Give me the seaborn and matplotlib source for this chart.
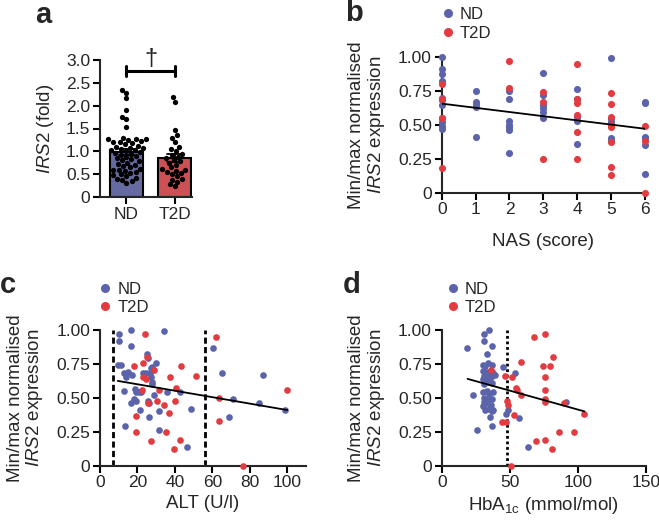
import matplotlib
matplotlib.use("Agg")
import numpy as np
import pandas as pd
import matplotlib.pyplot as plt
from matplotlib.lines import Line2D
import seaborn as sns

sns.set_style("ticks")
plt.rcParams['font.family'] = ['Liberation Sans', 'DejaVu Sans']
plt.rcParams['mathtext.fontset'] = 'custom'
plt.rcParams['mathtext.rm'] = 'Liberation Sans'
plt.rcParams['mathtext.it'] = 'Liberation Sans:italic'
plt.rcParams['mathtext.bf'] = 'Liberation Sans:bold'
plt.rcParams['axes.linewidth'] = 1.5

azul = "#5b63ab"
vermelho = "#e23b40"

# ---- painel a: IRS2 (fold)
grupos = ["ND", "T2D"]
fold_nd = [2.34, 2.28, 2.16, 1.90, 1.76, 1.70, 1.53, 1.30, 1.28, 1.27, 1.27, 1.25,
           1.22, 1.20, 1.20, 1.18, 1.15, 1.12, 1.10, 1.08, 1.07, 1.05, 1.03, 1.02,
           1.00, 0.98, 0.96, 0.95, 0.93, 0.90, 0.88, 0.85, 0.83, 0.80, 0.78, 0.75,
           0.72, 0.70, 0.68, 0.65, 0.62, 0.60, 0.60, 0.58, 0.55, 0.53, 0.50, 0.48,
           0.45, 0.42, 0.40, 0.38, 0.35, 0.31]
fold_t2d = [2.20, 2.09, 1.47, 1.35, 1.30, 1.20, 1.10, 1.05, 1.00, 0.95, 0.92, 0.88,
            0.85, 0.80, 0.78, 0.75, 0.70, 0.65, 0.62, 0.60, 0.58, 0.55, 0.52, 0.50,
            0.45, 0.40, 0.38, 0.33, 0.28, 0.23]

# ---- painel b: NAS
nas_nd_x = [0, 0, 0, 0, 0, 0, 0, 0, 0, 0, 0,
            1, 1, 1, 1, 1,
            2, 2, 2, 2, 2, 2, 2,
            3, 3, 3, 3, 3, 3,
            4, 4, 4, 4, 4,
            5, 5, 5, 5, 5,
            6, 6, 6, 6, 6, 6]
nas_nd_y = [1.00, 0.91, 0.87, 0.82, 0.70, 0.68, 0.645, 0.55, 0.52, 0.49, 0.465,
            0.75, 0.67, 0.65, 0.63, 0.41,
            0.745, 0.69, 0.53, 0.50, 0.48, 0.46, 0.29,
            0.88, 0.72, 0.645, 0.62, 0.59, 0.55,
            0.76, 0.69, 0.56, 0.53, 0.36,
            0.99, 0.54, 0.52, 0.40, 0.39,
            0.67, 0.66, 0.41, 0.40, 0.35, 0.14]
nas_t2d_x = [0, 0, 0, 0,
             2, 2,
             3, 3, 3,
             4, 4, 4, 4, 4, 4,
             5, 5, 5, 5, 5, 5, 5, 5,
             6, 6, 6]
nas_t2d_y = [0.80, 0.69, 0.55, 0.18,
             0.97, 0.77,
             0.74, 0.665, 0.25,
             0.95, 0.69, 0.66, 0.57, 0.45, 0.25,
             0.735, 0.65, 0.56, 0.50, 0.48, 0.37, 0.19, 0.13,
             0.49, 0.38, 0.00]
nas_fit_x = [0, 6]
nas_fit_y = [0.655, 0.47]

# ---- painel c: ALT
alt_nd_x = [10, 10.4, 16.5, 34.3, 9.5, 11, 16.5, 25.3, 25.5, 30, 28, 27, 13, 15, 17,
            14, 23, 24.5, 26.5, 27.3, 28, 27.5, 12.6, 18.5, 19, 21, 22, 18, 19, 16.6,
            25.5, 26.4, 29, 36, 42.5, 21.6, 31.4, 26.4, 48.4, 13.5, 31.4, 46.2, 60.5,
            65, 71, 69, 87, 85, 99]
alt_nd_y = [0.97, 0.92, 1.00, 0.995, 0.745, 0.745, 0.88, 0.82, 0.79, 0.76, 0.73, 0.72,
            0.685, 0.69, 0.67, 0.655, 0.685, 0.68, 0.685, 0.655, 0.62, 0.60, 0.55,
            0.565, 0.545, 0.54, 0.545, 0.49, 0.475, 0.465, 0.475, 0.46, 0.52, 0.54,
            0.54, 0.41, 0.405, 0.36, 0.415, 0.29, 0.26, 0.14, 0.87, 0.68, 0.49, 0.36,
            0.67, 0.46, 0.41]
alt_t2d_x = [24, 18.2, 23.2, 25, 28.6, 23.2, 24.6, 37.5, 43.4, 51.2, 22.3, 31.4, 40.4,
             30.4, 40, 25.5, 34, 36.6, 19.3, 19.3, 35.4, 27.3, 42.5, 39.3, 62, 63.4,
             63.4, 76.4, 100]
alt_t2d_y = [0.97, 0.735, 0.76, 0.80, 0.705, 0.655, 0.64, 0.65, 0.735, 0.66, 0.56, 0.56,
             0.57, 0.48, 0.48, 0.46, 0.45, 0.385, 0.365, 0.25, 0.25, 0.185, 0.19, 0.12,
             0.95, 0.50, 0.33, 0.00, 0.56]
alt_fit_x = [9.5, 100]
alt_fit_y = [0.625, 0.41]
alt_limites = [7, 56]

# ---- painel d: HbA1c
hba_nd_x = [35, 31, 31, 37, 18.5, 33, 30, 32, 34, 37, 45, 53.7, 30, 33, 36, 38, 31, 34,
            36, 39, 30, 33, 35, 31, 37, 23, 30, 33, 35, 38, 31, 34, 37, 31, 33, 36, 30,
            32, 35, 37, 38, 35.3, 47.5, 49, 56.8, 37.3, 25.6, 63.5, 91.5]
hba_nd_y = [1.00, 0.97, 0.92, 0.88, 0.87, 0.82, 0.745, 0.735, 0.76, 0.745, 0.73, 0.685,
            0.70, 0.69, 0.70, 0.68, 0.66, 0.67, 0.655, 0.665, 0.64, 0.63, 0.62, 0.60,
            0.61, 0.52, 0.54, 0.55, 0.53, 0.54, 0.50, 0.49, 0.49, 0.47, 0.46, 0.45,
            0.44, 0.41, 0.42, 0.40, 0.41, 0.36, 0.38, 0.41, 0.355, 0.29, 0.26, 0.14, 0.47]
hba_t2d_x = [67.7, 76, 58.5, 81.7, 74.3, 79.7, 36.6, 46.8, 51.7, 76.3, 54.4, 55, 76.3,
             58, 76.3, 76.3, 48, 49, 90, 52.9, 44.6, 47, 104.8, 86, 97, 69, 76.3, 81, 51.2]
hba_t2d_y = [0.95, 0.97, 0.765, 0.80, 0.737, 0.737, 0.705, 0.66, 0.65, 0.65, 0.57, 0.56,
             0.56, 0.52, 0.49, 0.47, 0.48, 0.45, 0.46, 0.37, 0.325, 0.325, 0.38, 0.25,
             0.25, 0.185, 0.19, 0.12, 0.00]
hba_fit_x = [19, 105]
hba_fit_y = [0.64, 0.40]
hba_limite = [48]

W, H = 659, 520
fig = plt.figure(figsize=(W / 100, H / 100), dpi=100)


def caixa(l, t, r, b):
    return [l / W, 1 - b / H, (r - l) / W, (b - t) / H]


ax_a = fig.add_axes(caixa(100, 60, 192, 197))
ax_b = fig.add_axes(caixa(441.7, 56.7, 645, 192.7))
ax_c = fig.add_axes(caixa(100, 330, 306, 465.7))
ax_d = fig.add_axes(caixa(441.7, 330, 645.7, 465.7))

tick_kw = dict(labelsize=12.5, width=1.5, length=5, direction='out', color='black', pad=2)

# painel a
df_a = pd.DataFrame({
    "grupo": ["ND"] * len(fold_nd) + ["T2D"] * len(fold_t2d),
    "fold": fold_nd + fold_t2d,
})
sns.barplot(data=df_a, x="grupo", y="fold", hue="grupo", order=grupos,
            palette=[azul, vermelho], errorbar="se", capsize=0.3, width=0.69,
            edgecolor="black", linewidth=1.5, legend=False,
            err_kws={"color": "black", "linewidth": 1.3}, ax=ax_a)
sns.swarmplot(data=df_a, x="grupo", y="fold", order=grupos, color="black",
              size=3.8, ax=ax_a)
ax_a.set_xlim(-0.55, 1.36)
ax_a.set_ylim(0, 3.0)
ax_a.set_yticks([0, 0.5, 1.0, 1.5, 2.0, 2.5, 3.0])
ax_a.set_yticklabels(["0", "0.5", "1.0", "1.5", "2.0", "2.5", "3.0"])
ax_a.set_xlabel("")
ax_a.set_ylabel(r"$\it{IRS2}$ (fold)", fontsize=13.5, labelpad=7)
ax_a.tick_params(**tick_kw)
# barra de significância
ax_a.plot([0, 1], [2.76, 2.76], color="black", lw=2.2, clip_on=False)
ax_a.plot([0, 0], [2.65, 2.87], color="black", lw=2.2, clip_on=False)
ax_a.plot([1, 1], [2.65, 2.87], color="black", lw=2.2, clip_on=False)
ax_a.text(0.5, 2.78, "†", ha="center", va="bottom", fontsize=17, clip_on=False)


def dispersao(ax, nd_x, nd_y, t2d_x, t2d_y, s):
    sns.scatterplot(x=nd_x, y=nd_y, color=azul, s=s, linewidth=0, ax=ax,
                    clip_on=False, zorder=3)
    sns.scatterplot(x=t2d_x, y=t2d_y, color=vermelho, s=s, linewidth=0, ax=ax,
                    clip_on=False, zorder=3)
    ax.set_ylim(0, 1.0)
    ax.set_yticks([0, 0.25, 0.5, 0.75, 1.0])
    ax.set_yticklabels(["0", "0.25", "0.50", "0.75", "1.00"])
    ax.set_ylabel("Min/max normalised\n" + r"$\it{IRS2}$ expression",
                  fontsize=13.5, labelpad=8, linespacing=1.05)
    ax.tick_params(**tick_kw)
    handles = [Line2D([], [], marker="o", ls="", color=azul, markersize=5.5),
               Line2D([], [], marker="o", ls="", color=vermelho, markersize=5.5)]
    return handles


leg_kw = dict(loc="lower left", frameon=False, fontsize=12, handletextpad=0.25,
              labelspacing=0.2, borderaxespad=0, handlelength=1.0)

# painel b
h = dispersao(ax_b, nas_nd_x, nas_nd_y, nas_t2d_x, nas_t2d_y, 26)
ax_b.plot(nas_fit_x, nas_fit_y, color="black", lw=1.3, zorder=4)
ax_b.set_xlim(0, 6)
ax_b.set_xticks(range(7))
ax_b.set_xlabel("NAS (score)", fontsize=13.5, labelpad=11)
ax_b.legend(h, ["ND", "T2D"], bbox_to_anchor=(-0.045, 1.07), **leg_kw)

# painel c
h = dispersao(ax_c, alt_nd_x, alt_nd_y, alt_t2d_x, alt_t2d_y, 23)
ax_c.vlines(alt_limites, 0, 1, colors="black", linestyles=(0, (2.2, 1.2)), lw=2)
ax_c.plot(alt_fit_x, alt_fit_y, color="black", lw=1.3, zorder=4)
ax_c.set_xlim(0, 110)
ax_c.set_xticks([0, 20, 40, 60, 80, 100])
ax_c.set_xlabel("ALT (U/l)", fontsize=13.5, labelpad=3)
ax_c.legend(h, ["ND", "T2D"], bbox_to_anchor=(-0.05, 1.06), **leg_kw)

# painel d
h = dispersao(ax_d, hba_nd_x, hba_nd_y, hba_t2d_x, hba_t2d_y, 23)
ax_d.vlines(hba_limite, 0, 1, colors="black", linestyles=(0, (1, 1)), lw=2)
ax_d.plot(hba_fit_x, hba_fit_y, color="black", lw=1.3, zorder=4)
ax_d.set_xlim(0, 150)
ax_d.set_xticks([0, 50, 100, 150])
ax_d.set_xlabel(r"HbA$_{\mathrm{1c}}$ (mmol/mol)", fontsize=13.5, labelpad=3)
ax_d.legend(h, ["ND", "T2D"], bbox_to_anchor=(-0.02, 1.06), **leg_kw)

for ax in (ax_a, ax_b, ax_c, ax_d):
    sns.despine(ax=ax)

# letras dos painéis
fig.text(35 / W, 1 - 23 / H, "a", fontsize=21, fontweight="bold", va="baseline")
fig.text(345 / W, 1 - 21 / H, "b", fontsize=21, fontweight="bold", va="baseline")
fig.text(0 / W, 1 - 293 / H, "c", fontsize=21, fontweight="bold", va="baseline")
fig.text(343 / W, 1 - 293 / H, "d", fontsize=21, fontweight="bold", va="baseline")

fig.savefig("out.png", dpi=100)
